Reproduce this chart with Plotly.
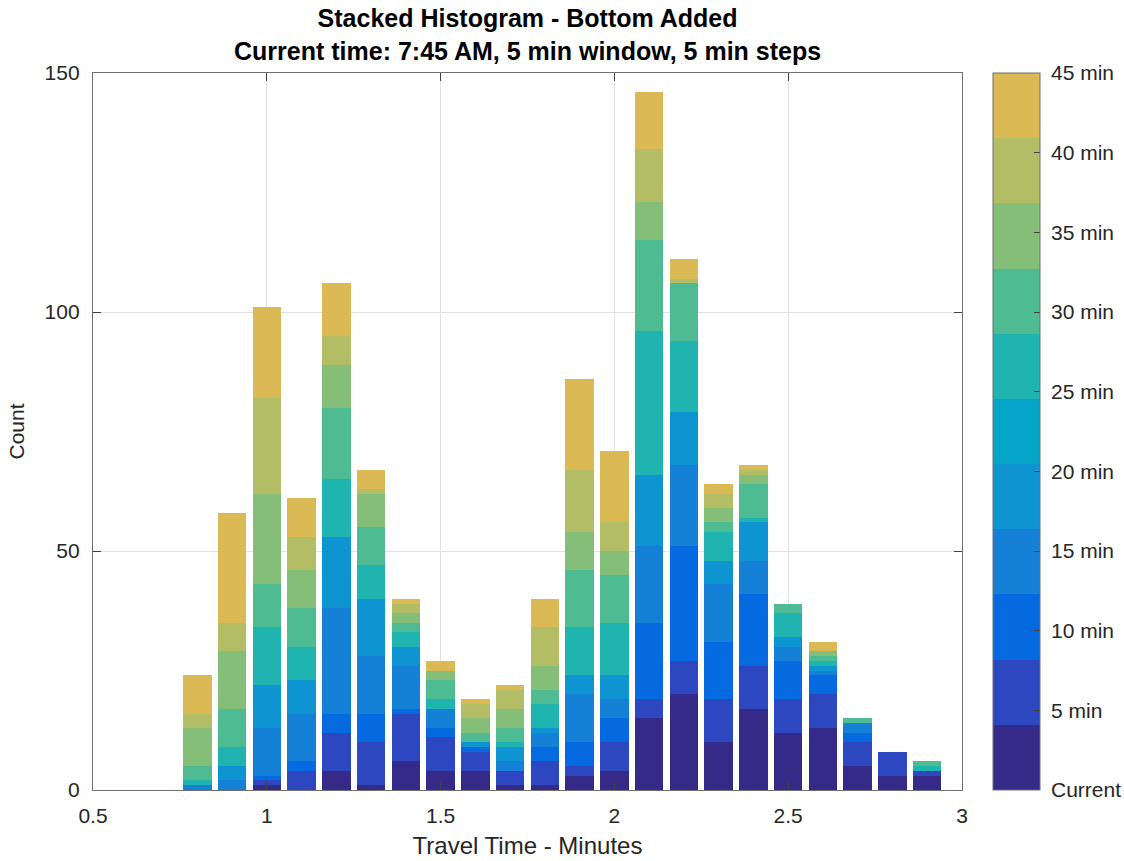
import plotly.graph_objects as go

# Travel-time bins (bin centres, minutes)
bin_centers = [0.5, 0.6, 0.7, 0.8, 0.9, 1.0, 1.1, 1.2, 1.3, 1.4, 1.5, 1.6, 1.7,
               1.8, 1.9, 2.0, 2.1, 2.2, 2.3, 2.4, 2.5, 2.6, 2.7, 2.8, 2.9]

# Counts per window, stacked from the current window upward
current = [0, 0, 0, 0, 0, 1, 0, 4, 1, 6, 4, 4, 1, 1, 3, 4, 15, 20, 10, 17, 12, 13, 5, 3, 3]
min5 = [0, 0, 0, 0, 0, 1, 4, 8, 9, 10, 7, 4, 3, 5, 2, 6, 4, 7, 9, 9, 7, 7, 5, 5, 1]
min10 = [0, 0, 0, 0, 0, 1, 2, 4, 6, 1, 2, 1, 0, 3, 5, 5, 16, 24, 12, 15, 8, 4, 2, 0, 0]
min15 = [0, 0, 0, 1, 2, 10, 10, 22, 12, 9, 4, 0, 2, 3, 10, 4, 16, 17, 12, 7, 3, 1, 2, 0, 0]
min20 = [0, 0, 0, 0, 3, 9, 7, 15, 12, 4, 0, 1, 3, 1, 4, 5, 15, 11, 5, 8, 2, 1, 0, 0, 0]
min25 = [0, 0, 0, 1, 4, 12, 7, 12, 7, 3, 2, 0, 1, 5, 10, 11, 30, 15, 6, 1, 5, 1, 0, 0, 1]
min30 = [0, 0, 0, 3, 8, 9, 8, 15, 8, 2, 4, 2, 3, 3, 12, 10, 19, 12, 2, 7, 2, 1, 1, 0, 1]
min35 = [0, 0, 0, 8, 12, 19, 8, 9, 7, 2, 2, 3, 4, 5, 8, 5, 8, 0, 3, 2, 0, 1, 0, 0, 0]
min40 = [0, 0, 0, 3, 6, 20, 7, 6, 1, 2, 0, 3, 4, 8, 13, 6, 11, 1, 3, 1, 0, 0, 0, 0, 0]
min45 = [0, 0, 0, 8, 23, 19, 8, 11, 4, 1, 2, 1, 1, 6, 19, 15, 12, 4, 2, 1, 0, 2, 0, 0, 0]

series = [current, min5, min10, min15, min20, min25, min30, min35, min40, min45]
series_names = ["Current", "5 min", "10 min", "15 min", "20 min",
                "25 min", "30 min", "35 min", "40 min", "45 min"]

# Layer colours (parula-like) and the 11-step colour bar
bar_colors = ["#352a87", "#2c47c0", "#0569df", "#1481d6", "#0e94d0",
              "#1fb4b0", "#4fbb92", "#84be78", "#b3bd65", "#dbb954"]
cbar_colors = ["#352a87", "#2c47c0", "#0569df", "#1481d6", "#0e94d0", "#05a5c9",
               "#1fb4b0", "#4fbb92", "#84be78", "#b3bd65", "#dbb954"]

cbar_tickvals = [0, 5, 10, 15, 20, 25, 30, 35, 40, 45]
x_ticks = [0.5, 1, 1.5, 2, 2.5, 3]
x_ticktext = ["0.5", "1", "1.5", "2", "2.5", "3"]
y_ticks = [0, 50, 100, 150]

title_lines = ["Stacked Histogram - Bottom Added",
               "Current time: 7:45 AM, 5 min window, 5 min steps"]

FONT = "Liberation Sans, Arial, Helvetica, sans-serif"
TXT = "#262626"

fig = go.Figure()

for vals, name, col in zip(series, series_names, bar_colors):
    fig.add_trace(go.Bar(
        x=bin_centers, y=vals, name=name,
        marker=dict(color=col, line=dict(width=0)),
        showlegend=False,
    ))

# Discrete colour bar
n = len(cbar_colors)
colorscale = []
for i, c in enumerate(cbar_colors):
    colorscale.append([i / n, c])
    colorscale.append([(i + 1) / n, c])

fig.add_trace(go.Scatter(
    x=[1.0], y=[0], mode="markers",
    marker=dict(
        size=1, opacity=0, color=[0], cmin=0, cmax=45,
        colorscale=colorscale, showscale=True,
        colorbar=dict(
            x=(993 - 93) / 869, xanchor="left", xpad=0,
            y=0.5, yanchor="middle", ypad=0,
            len=1, lenmode="fraction",
            thickness=47, thicknessmode="pixels",
            outlinecolor="#6e6e6e", outlinewidth=1,
            tickmode="array", tickvals=cbar_tickvals,
            ticktext=[" " + s for s in series_names],
            ticks="inside", ticklen=6, tickcolor="#404040", tickwidth=1,
            tickfont=dict(family=FONT, size=21, color=TXT),
        ),
    ),
    hoverinfo="skip", showlegend=False,
))

# Two-line bold title centred over the plot area
fig.add_annotation(
    text="<b>" + title_lines[0] + "</b><br><b>" + title_lines[1] + "</b>",
    xref="paper", yref="paper", x=0.5, y=1 + 71 / 717,
    xanchor="center", yanchor="top", showarrow=False,
    font=dict(family=FONT, size=25, color="black"),
)

fig.update_layout(
    width=1124, height=861,
    margin=dict(l=93, r=162, t=73, b=71, autoexpand=False),
    paper_bgcolor="white", plot_bgcolor="white",
    barmode="stack", bargap=0.18,
    font=dict(family=FONT, size=21, color=TXT),
    xaxis=dict(
        range=[0.5, 3], tickmode="array", tickvals=x_ticks, ticktext=x_ticktext,
        showgrid=True, gridcolor="#e2e2e2", gridwidth=1,
        showline=True, linecolor="#707070", linewidth=1.3, mirror="ticks",
        ticks="inside", ticklen=8, tickcolor="#404040", tickwidth=1,
        tickfont=dict(family=FONT, size=21, color=TXT),
        ticklabelstandoff=7,
        zeroline=False, automargin=False,
        title=dict(text="Travel Time - Minutes", standoff=10,
                   font=dict(family=FONT, size=24, color=TXT)),
    ),
    yaxis=dict(
        range=[0, 150], tickmode="array", tickvals=y_ticks,
        showgrid=True, gridcolor="#e2e2e2", gridwidth=1,
        showline=True, linecolor="#707070", linewidth=1.3, mirror="ticks",
        ticks="inside", ticklen=8, tickcolor="#404040", tickwidth=1,
        tickfont=dict(family=FONT, size=21, color=TXT),
        ticklabelstandoff=8,
        zeroline=False, automargin=False,
        title=dict(text="Count", standoff=14,
                   font=dict(family=FONT, size=21, color=TXT)),
    ),
)

fig.write_html("out.html")
